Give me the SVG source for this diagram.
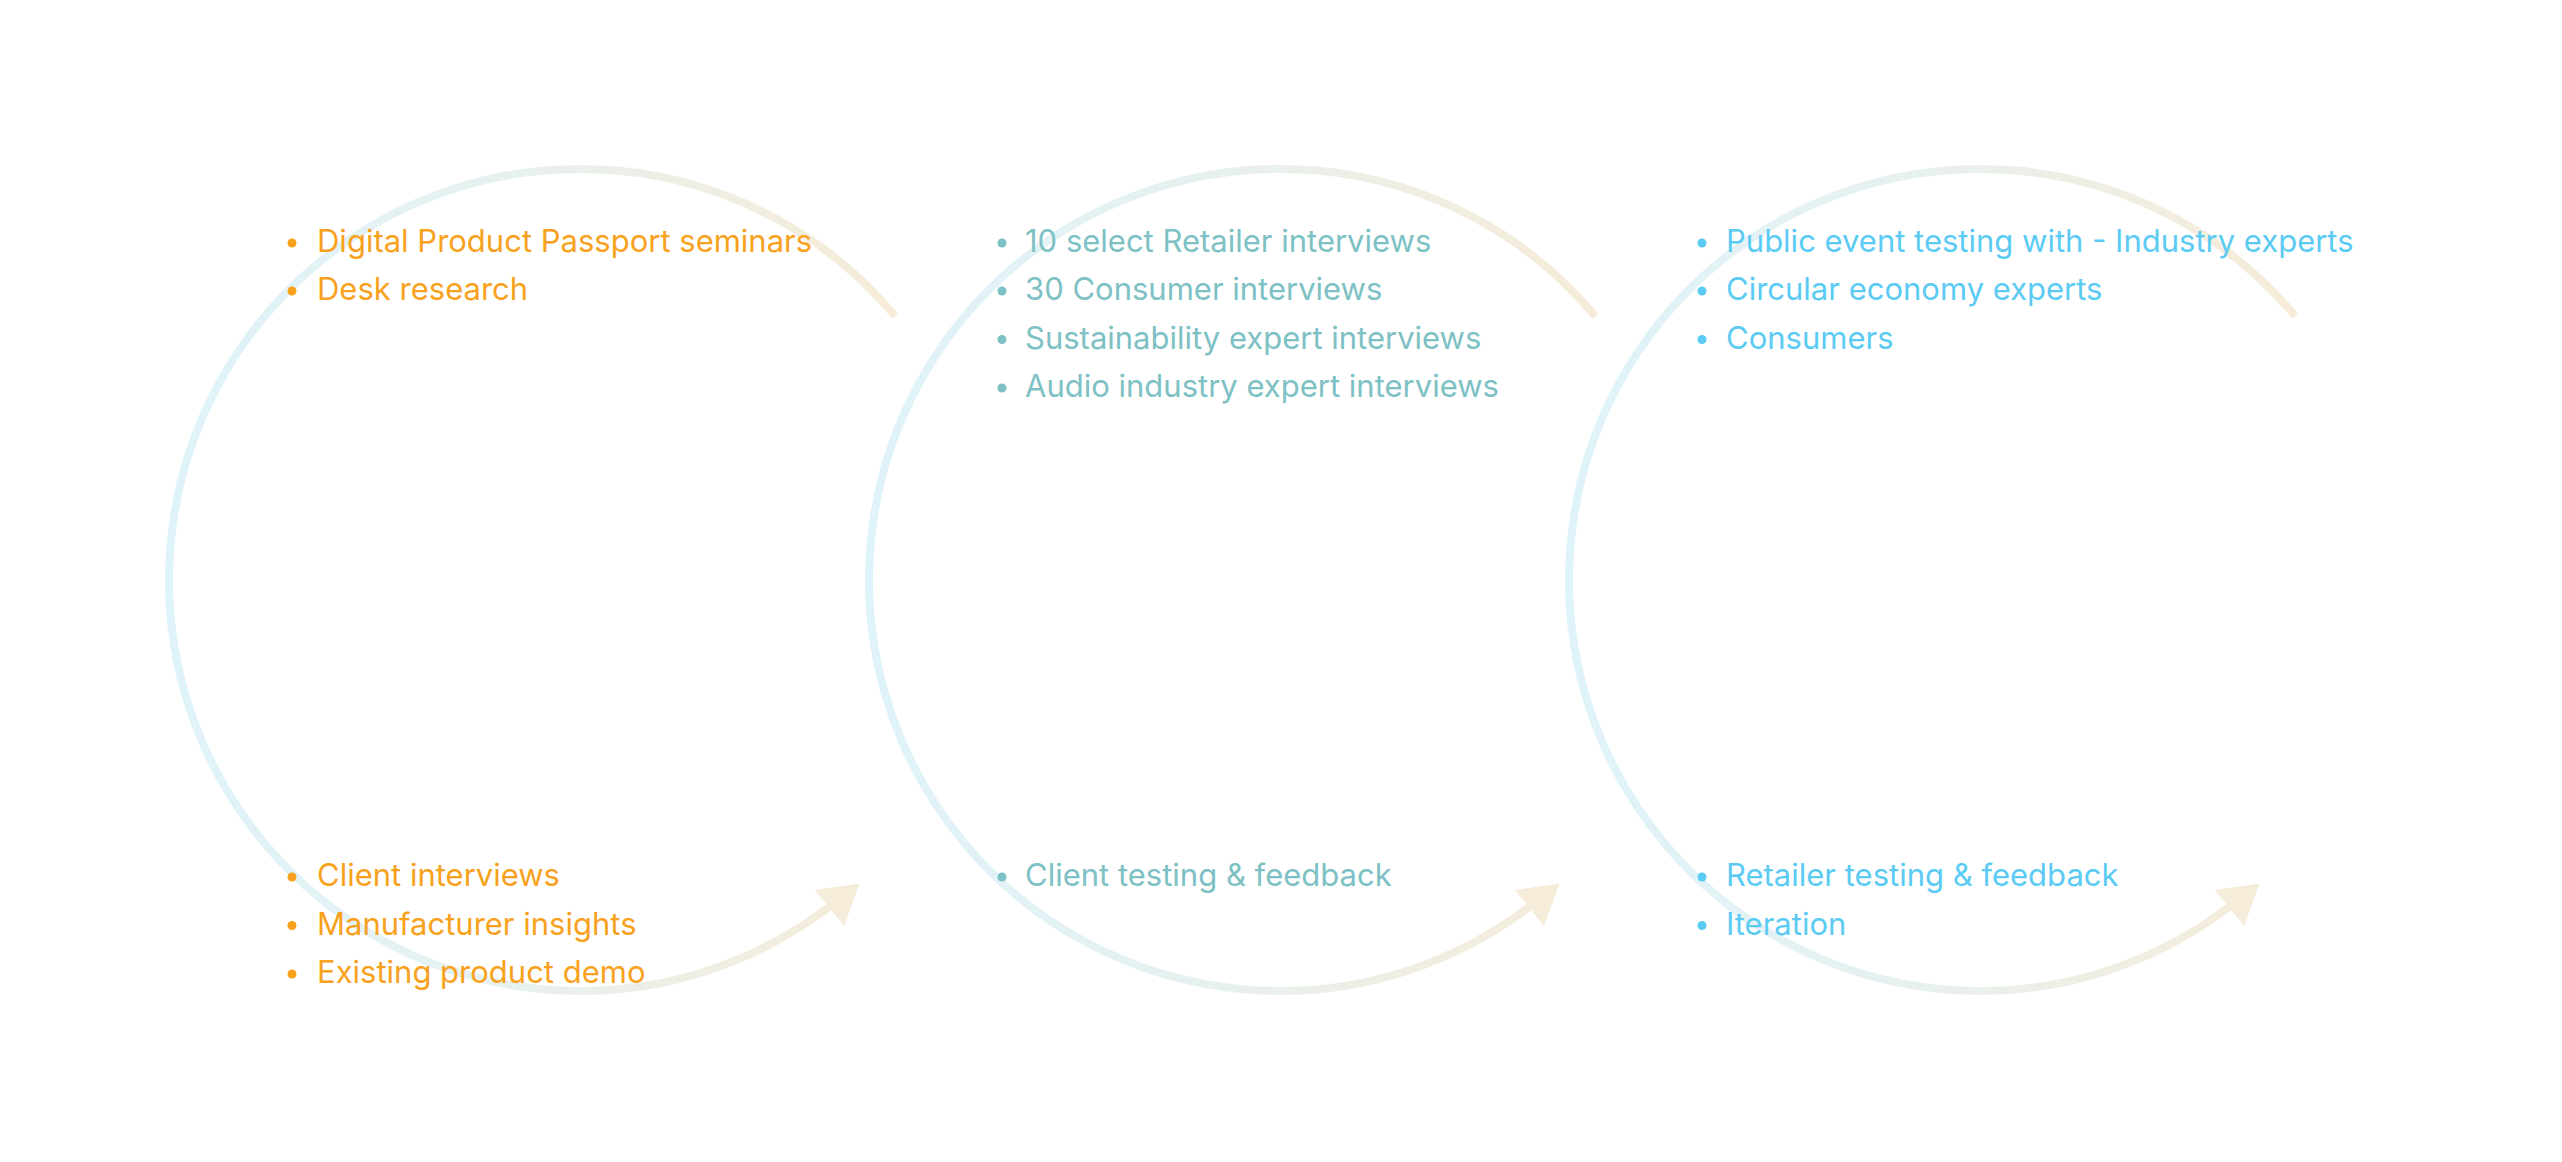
<svg xmlns="http://www.w3.org/2000/svg" xmlns:xlink="http://www.w3.org/1999/xlink" width="2562" height="1162" viewBox="0 0 2562 1162">
<defs>
<linearGradient id="ring" x1="0" y1="0" x2="1" y2="0">
<stop offset="0" stop-color="#DFF3FA"/>
<stop offset="0.45" stop-color="#E6F1F0"/>
<stop offset="0.75" stop-color="#F0EEE2"/>
<stop offset="1" stop-color="#F6ECD9"/>
</linearGradient>
<g id="loop">
<path d="M895.5 316.5 A411 411 0 1 0 844.2 894.8" fill="none" stroke="url(#ring)" stroke-width="8"/>
<polygon points="859.5,883.5 815,890 844,926" fill="#F5ECDA"/>
</g>
<style>
text{font-family:Inter,"Liberation Sans",sans-serif;font-size:31px}
.o{fill:#F8A11D}
.t{fill:#7DC1C4}
.b{fill:#5BCBF4}
</style>
</defs>
<rect width="2562" height="1162" fill="#FFFFFF"/>
<g id="connectors">
<use xlink:href="#loop"/>
<use xlink:href="#loop" x="700"/>
<use xlink:href="#loop" x="1400"/>
</g>
<g id="stage1-top" class="o">
<circle cx="292" cy="243" r="4.5"/><text x="317" y="252">Digital Product Passport seminars</text>
<circle cx="292" cy="291" r="4.5"/><text x="317" y="300">Desk research</text>
</g>
<g id="stage1-bottom" class="o">
<circle cx="292" cy="877" r="4.5"/><text x="317" y="886">Client interviews</text>
<circle cx="292" cy="925.5" r="4.5"/><text x="317" y="934.5">Manufacturer insights</text>
<circle cx="292" cy="974" r="4.5"/><text x="317" y="983">Existing product demo</text>
</g>
<g id="stage2-top" class="t">
<circle cx="1002" cy="243" r="4.5"/><text x="1025" y="252">10 select Retailer interviews</text>
<circle cx="1002" cy="291" r="4.5"/><text x="1025" y="300">30 Consumer interviews</text>
<circle cx="1002" cy="339.5" r="4.5"/><text x="1025" y="348.5">Sustainability expert interviews</text>
<circle cx="1002" cy="388" r="4.5"/><text x="1025" y="397">Audio industry expert interviews</text>
</g>
<g id="stage2-bottom" class="t">
<circle cx="1002" cy="877" r="4.5"/><text x="1025" y="886">Client testing &amp; feedback</text>
</g>
<g id="stage3-top" class="b">
<circle cx="1702" cy="243" r="4.5"/><text x="1726" y="252">Public event testing with - Industry experts</text>
<circle cx="1702" cy="291" r="4.5"/><text x="1726" y="300">Circular economy experts</text>
<circle cx="1702" cy="339.5" r="4.5"/><text x="1726" y="348.5">Consumers</text>
</g>
<g id="stage3-bottom" class="b">
<circle cx="1702" cy="877" r="4.5"/><text x="1726" y="886">Retailer testing &amp; feedback</text>
<circle cx="1702" cy="925.5" r="4.5"/><text x="1726" y="934.5">Iteration</text>
</g>
</svg>
